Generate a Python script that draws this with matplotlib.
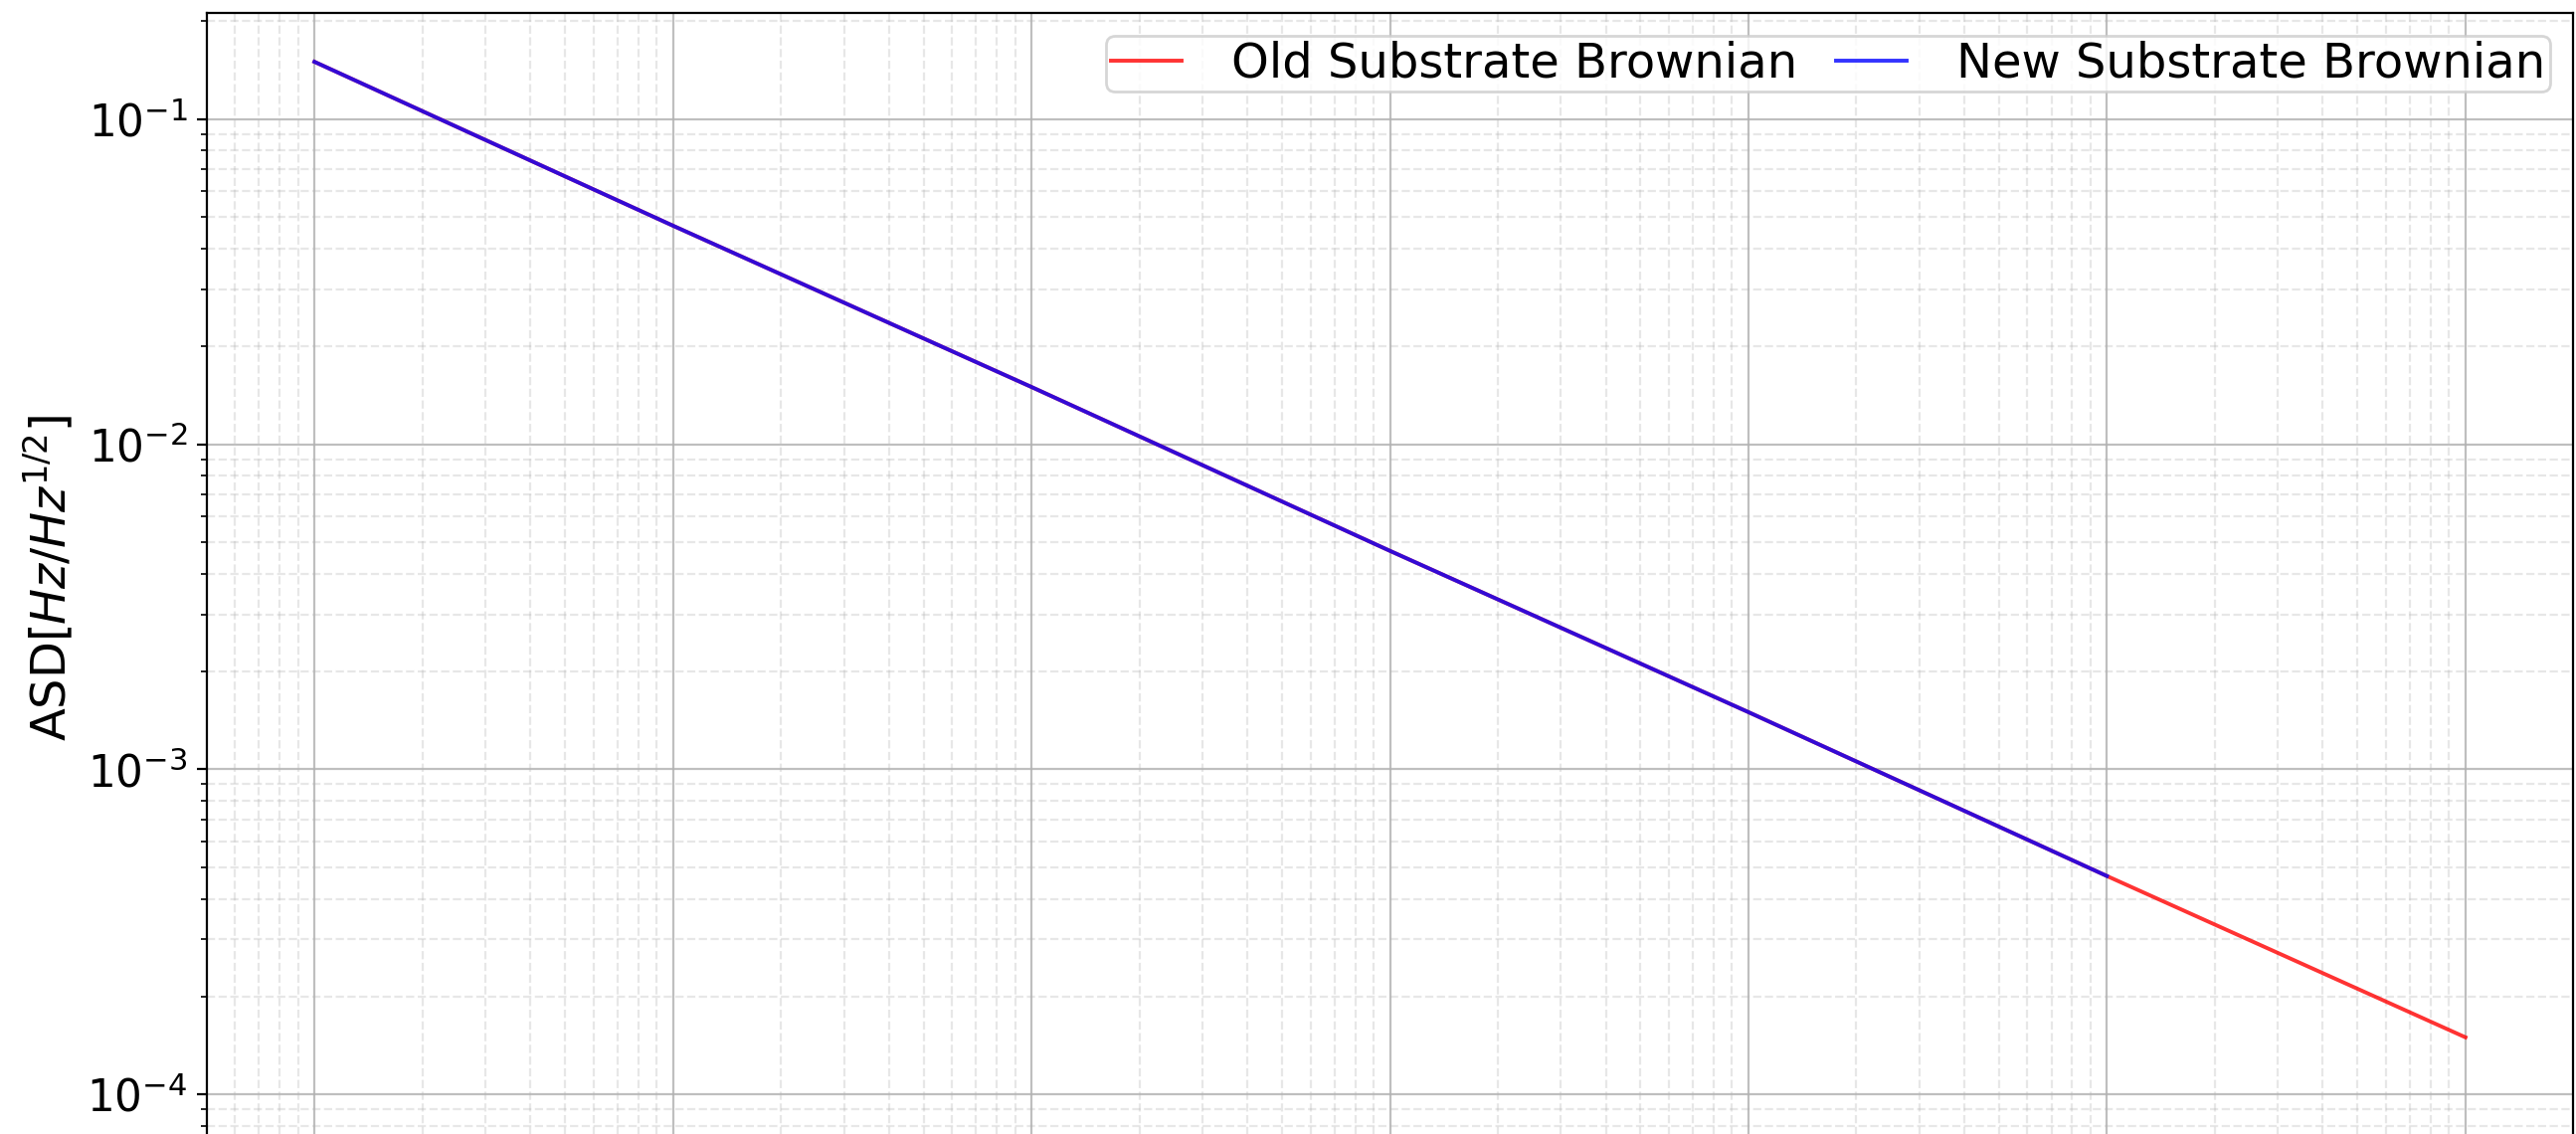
import numpy as np
import matplotlib
matplotlib.use('Agg')
import matplotlib.pyplot as plt

# Frequency points (one per decade) and the ASD
freq = [1, 10, 100, 1e3, 1e4, 1e5, 1e6]
old_asd = [0.15, 0.047, 0.015, 0.0047, 0.0015, 0.00047, 0.00015]

new_freq = [1, 10, 100, 1e3, 1e4, 1e5]
new_asd = [0.15, 0.047, 0.015, 0.0047, 0.0015, 0.00047]

fig = plt.figure(figsize=(12.95, 5.7), dpi=200)
ax = fig.add_axes([208 / 2590, 1 - 1149 / 1140, (2587 - 208) / 2590, (1149 - 13) / 1140])

ax.loglog(freq, old_asd, color='r', alpha=0.8, lw=1.4, label='Old Substrate Brownian')
ax.loglog(new_freq, new_asd, color='b', alpha=0.8, lw=1.4, label='New Substrate Brownian')

ax.set_ylim(7.1e-5, 0.212)

ax.grid(True, which='major', ls='-', lw=0.8, color='#b0b0b0', alpha=0.8)
ax.grid(True, which='minor', ls='--', lw=0.8, color='#b0b0b0', alpha=0.3)

ax.set_ylabel(r'ASD$[Hz/Hz^{1/2}]$', fontsize=17.3)
ax.tick_params(axis='both', which='major', labelsize=15.7)

ax.legend(loc='upper right', ncol=2, fontsize=17.3, handlelength=1.48,
          handletextpad=1.05, columnspacing=0.8, borderpad=0.1,
          borderaxespad=0.47)

fig.savefig('out.png', dpi=200)
